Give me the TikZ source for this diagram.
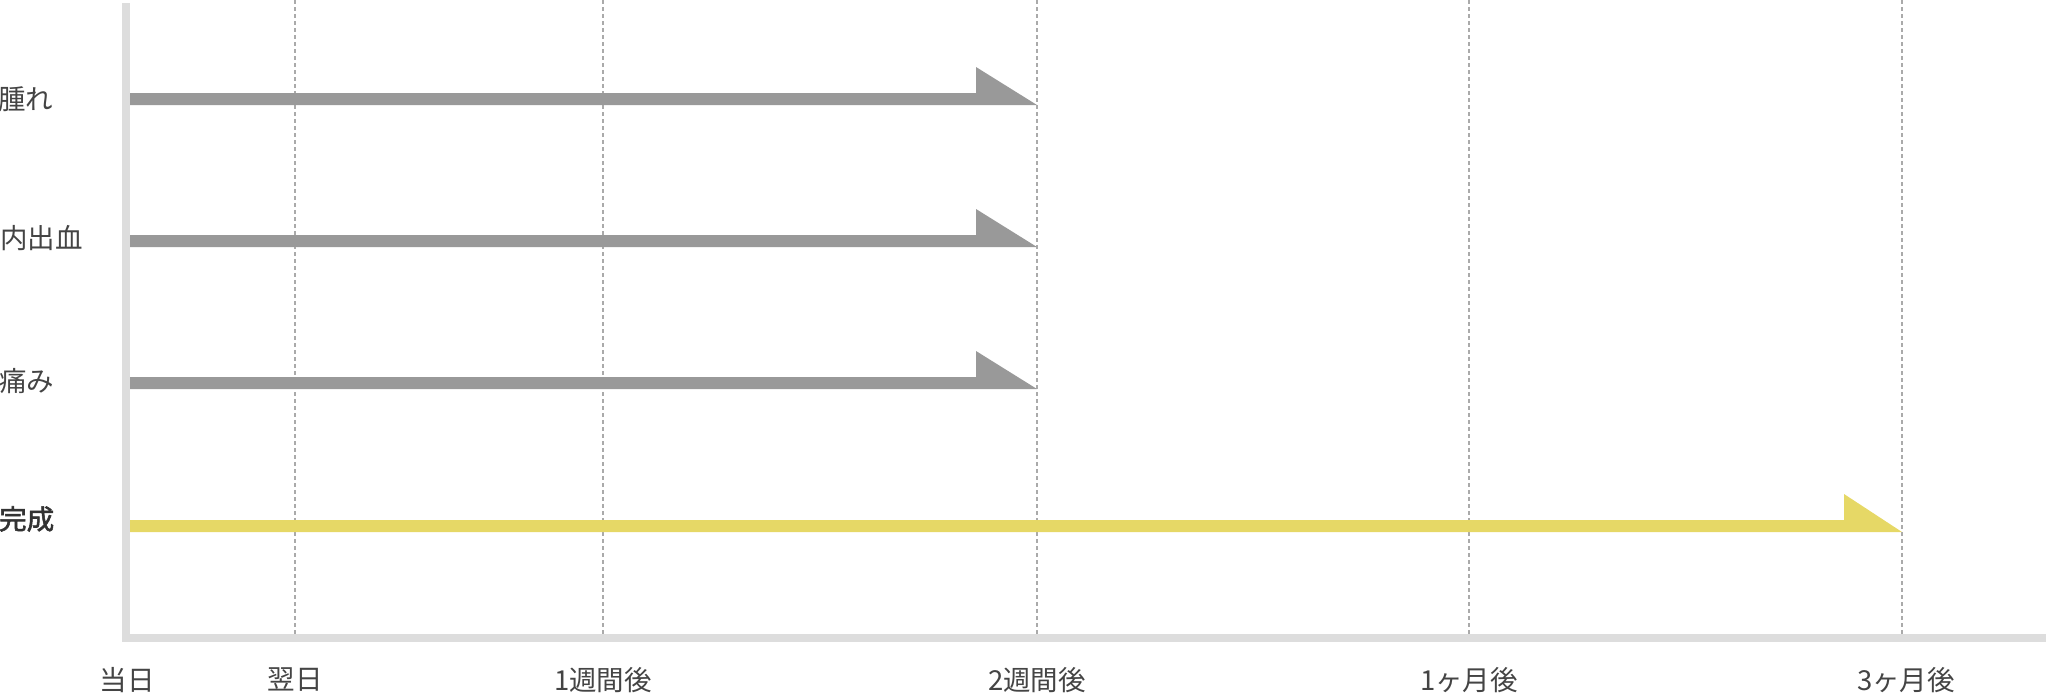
\documentclass[tikz,border=0pt]{standalone}
\usepackage{fontspec}
\newfontfamily\jp{Noto Sans CJK JP}
\newfontfamily\jpbold{Noto Sans CJK JP}[FakeBold=2]
\definecolor{axisgray}{HTML}{DDDDDD}
\definecolor{gridgray}{HTML}{AAAAAA}
\definecolor{bargray}{HTML}{999999}
\definecolor{baryellow}{HTML}{E6D866}
\definecolor{textgray}{HTML}{444444}
\tikzset{
  gridline/.style={draw=gridgray, line width=1.3pt, dash pattern=on 4pt off 3pt},
  rowlabel/.style={anchor=west, inner sep=0pt, text=textgray, font=\jp\fontsize{27.5}{27.5}\selectfont},
  ticklabel/.style={anchor=center, inner sep=0pt, text=textgray, font=\jp\fontsize{27.5}{27.5}\selectfont},
}
\begin{document}
\begin{tikzpicture}[x=1pt,y=-1pt]
\useasboundingbox (0,0) rectangle (2046,694);
% grid lines
\foreach \gx/\nm in {295/g1,603/g2,1037/g3,1469/g4,1902/g5}{
  \coordinate (\nm top) at (\gx,0);
  \coordinate (\nm bot) at (\gx,634);
  \draw[gridline] (\nm top) -- (\nm bot);
}
% axes
\fill[axisgray] (122,3) rectangle (130,642);
\fill[axisgray] (122,634) rectangle (2046,642);
% arrows
\fill[bargray] (130,93) -- (976,93) -- (976,67) -- (1037,105) -- (130,105) -- cycle;
\fill[bargray] (130,235) -- (976,235) -- (976,209) -- (1037,247) -- (130,247) -- cycle;
\fill[bargray] (130,377) -- (976,377) -- (976,351) -- (1037,389) -- (130,389) -- cycle;
\fill[baryellow] (130,520) -- (1844,520) -- (1844,494) -- (1902,532) -- (130,532) -- cycle;
% row labels
\node[rowlabel] (swell) at (-2,99) {腫れ};
\node[rowlabel] (bruise) at (0,238) {内出血};
\node[rowlabel] (pain) at (-1,381) {痛み};
\node[rowlabel, font=\jpbold\fontsize{27.5}{27.5}\selectfont, text=black!80] (done) at (-1,519) {完成};
% tick labels
\node[ticklabel] (t0) at (127,680) {当日};
\node[ticklabel] (t1) at (295,680) {翌日};
\node[ticklabel] (t2) at (603,680) {1週間後};
\node[ticklabel] (t3) at (1037,680) {2週間後};
\node[ticklabel] (t4) at (1469,680) {1ヶ月後};
\node[ticklabel] (t5) at (1906,680) {3ヶ月後};
\end{tikzpicture}
\end{document}
